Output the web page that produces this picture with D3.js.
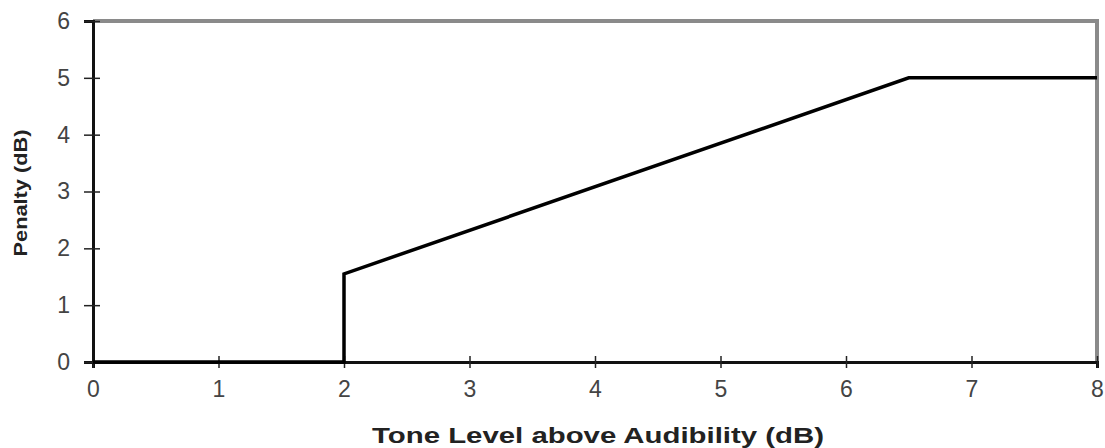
<!DOCTYPE html>
<html lang="en">
<head>
    <meta charset="UTF-8">
    <script src="https://cdn.jsdelivr.net/npm/d3@7"></script>
    <title>Tone penalty</title>
    <style>
        body { margin: 0; background: white; }
        text { font-family: "Liberation Sans", Arial, sans-serif; }
    </style>
</head>
<body>
    <script>
        // penalty curve (x = tone level above audibility, y = penalty)
        const toneLevel = [0, 2, 2, 6.5, 8];
        const penalty = [0, 0, 1.55, 5, 5];
        const xTicks = [0, 1, 2, 3, 4, 5, 6, 7, 8];
        const yTicks = [0, 1, 2, 3, 4, 5, 6];

        const width = 1105, height = 448;
        const margin = { left: 93, right: 8, top: 21, bottom: 86 };

        const svg = d3.select("body").append("svg")
            .attr("width", width)
            .attr("height", height);

        const x = d3.scaleLinear().domain([0, 8]).range([margin.left, width - margin.right]);
        const y = d3.scaleLinear().domain([0, 6]).range([height - margin.bottom, margin.top]);

        // grey frame on top and right
        svg.append("path")
            .attr("d", `M${x(0)},${y(6)}H${x(8)}V${y(0)}`)
            .attr("fill", "none")
            .attr("stroke", "#8a8a8a")
            .attr("stroke-width", 4);

        // x axis
        const xAxis = svg.append("g")
            .attr("transform", `translate(0,${y(0)})`)
            .call(d3.axisBottom(x).tickValues(xTicks).tickSize(6).tickPadding(13).tickFormat(d3.format("d")))
            .attr("font-size", 23)
            .attr("font-family", "'Liberation Sans', Arial, sans-serif");
        xAxis.select(".domain").attr("stroke", "#111").attr("stroke-width", 3);
        xAxis.selectAll(".tick line").attr("y1", -6).attr("stroke", "#222").attr("stroke-width", 1.5);
        xAxis.selectAll(".tick text").attr("fill", "#444");

        // y axis
        const yAxis = svg.append("g")
            .attr("transform", `translate(${x(0)},0)`)
            .call(d3.axisLeft(y).tickValues(yTicks).tickSize(9).tickPadding(14).tickFormat(d3.format("d")))
            .attr("font-size", 23)
            .attr("font-family", "'Liberation Sans', Arial, sans-serif");
        yAxis.select(".domain").attr("stroke", "#111").attr("stroke-width", 3);
        yAxis.selectAll(".tick line").attr("x1", -9).attr("x2", 7).attr("stroke", "#222").attr("stroke-width", 1.5);
        yAxis.selectAll(".tick text").attr("fill", "#444");

        // penalty line
        const pts = toneLevel.map((d, i) => [d, penalty[i]]);
        svg.append("path")
            .datum(pts)
            .attr("fill", "none")
            .attr("stroke", "#000")
            .attr("stroke-width", 3.5)
            .attr("stroke-linejoin", "miter")
            .attr("d", d3.line().x(d => x(d[0])).y(d => y(d[1])));

        // axis titles
        svg.append("text")
            .attr("x", 598)
            .attr("y", 443)
            .attr("text-anchor", "middle")
            .attr("font-size", 22)
            .attr("font-weight", "bold")
            .attr("fill", "#222")
            .attr("textLength", 452)
            .attr("lengthAdjust", "spacingAndGlyphs")
            .text("Tone Level above Audibility (dB)");

        svg.append("text")
            .attr("transform", "translate(27,193) rotate(-90)")
            .attr("text-anchor", "middle")
            .attr("font-size", 19)
            .attr("font-weight", "bold")
            .attr("fill", "#222")
            .attr("textLength", 127)
            .attr("lengthAdjust", "spacingAndGlyphs")
            .text("Penalty (dB)");
    </script>
</body>
</html>
